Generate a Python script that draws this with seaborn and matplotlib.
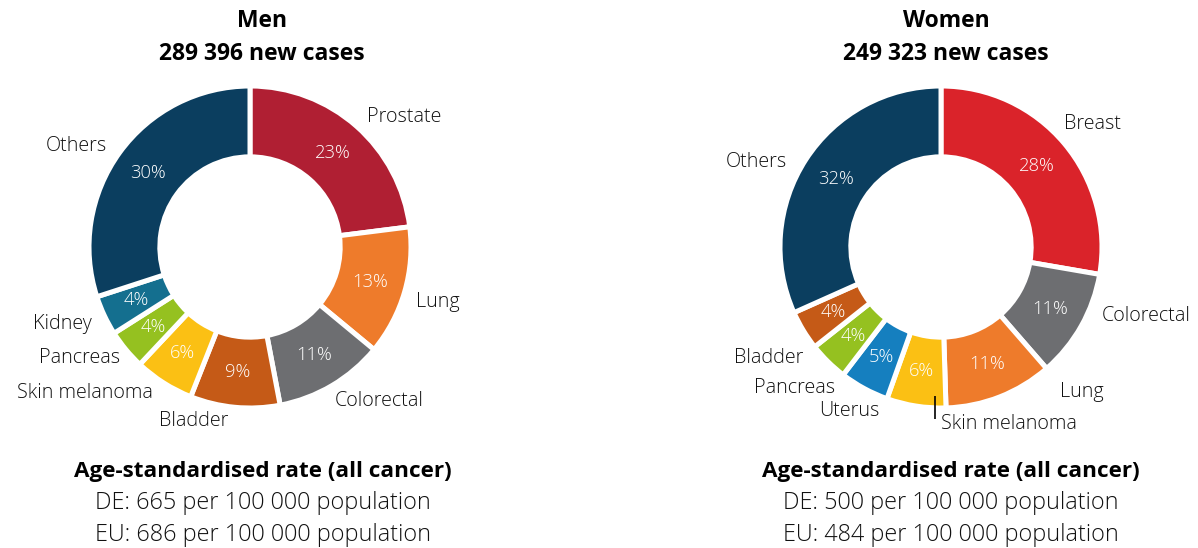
import numpy as np
import matplotlib
matplotlib.use("Agg")
import matplotlib.pyplot as plt
import seaborn as sns

# ---------------- data ----------------
men_labels = ["Prostate", "Lung", "Colorectal", "Bladder", "Skin melanoma",
              "Pancreas", "Kidney", "Others"]
men_values = [23, 13, 11, 9, 6, 4, 4, 30]
men_colors = ["#B01F33", "#EE7B2B", "#6D6E71", "#C55A17", "#FBC014",
              "#95C120", "#146F8F", "#0B3E5F"]

women_labels = ["Breast", "Colorectal", "Lung", "Skin melanoma", "Uterus",
                "Pancreas", "Bladder", "Others"]
women_values = [28, 11, 11, 6, 5, 4, 4, 32]
women_colors = ["#DA232A", "#6D6E71", "#EE7B2B", "#FBC014", "#157FBF",
                "#95C120", "#C55A17", "#0B3E5F"]

men_title = ["Men", "289 396 new cases"]
women_title = ["Women", "249 323 new cases"]
men_rates = ["DE: 665 per 100 000 population", "EU: 686 per 100 000 population"]
women_rates = ["DE: 500 per 100 000 population", "EU: 484 per 100 000 population"]
rate_header = "Age-standardised rate (all cancer)"

# ---------------- layout (label anchor positions, in radius units) ----------------
men_label_pos = {
    "Prostate": (0.727, 0.807, "left"),
    "Lung": (1.03, -0.342, "left"),
    "Colorectal": (0.528, -0.957, "left"),
    "Bladder": (-0.565, -1.08, "left"),
    "Skin melanoma": (-0.602, -0.907, "right"),
    "Pancreas": (-0.807, -0.689, "right"),
    "Kidney": (-0.981, -0.478, "right"),
    "Others": (-0.888, 0.627, "right"),
}
women_label_pos = {
    "Breast": (0.764, 0.764, "left"),
    "Colorectal": (1.0, -0.429, "left"),
    "Lung": (0.739, -0.90, "left"),
    "Skin melanoma": (0.0, -1.099, "left"),
    "Uterus": (-0.379, -1.019, "right"),
    "Pancreas": (-0.658, -0.876, "right"),
    "Bladder": (-0.857, -0.689, "right"),
    "Others": (-0.957, 0.528, "right"),
}

sns.set_theme(style="white")
plt.rcParams["font.family"] = ["Open Sans", "DejaVu Sans"]

W, H = 1198, 548
fig = plt.figure(figsize=(W / 100, H / 100), dpi=100)
fig.patch.set_facecolor("white")

R_PX = 161.0
TXT = "#111111"


def donut(cx, cy, labels, values, colors, label_pos, title, rates, title_cx, rate_cx,
          leader=None):
    half = 1.55  # axes half-extent in radius units
    size = 2 * half * R_PX
    ax = fig.add_axes([(cx - size / 2) / W, 1 - (cy + size / 2) / H, size / W, size / H])
    wedges, _ = ax.pie(values, colors=colors, startangle=90, counterclock=False,
                       radius=1.0,
                       wedgeprops=dict(width=0.44, edgecolor="white", linewidth=3.6))
    ax.set_xlim(-half, half)
    ax.set_ylim(-half, half)
    ax.set_aspect("equal")
    ax.axis("off")
    for w, lab in zip(wedges, labels):
        mid = np.deg2rad((w.theta1 + w.theta2) / 2)
        r = 0.78
        pct = values[labels.index(lab)]
        ax.text(r * np.cos(mid), r * np.sin(mid), f"{pct}%", color="white",
                ha="center", va="center", fontsize=13.2, fontweight="light")
        x, y, ha = label_pos[lab]
        ax.text(x, y, lab, ha=ha, va="center", fontsize=14.2, color=TXT,
                fontweight="light")
        if leader == lab:
            lx = x - 0.04
            ax.plot([lx, lx], [-0.925, -1.07], color="black", lw=1.2,
                    solid_capstyle="butt")
    # titles
    fig.text(title_cx / W, 1 - 21 / H, title[0], ha="center", va="center",
             fontsize=16.5, fontweight="bold", color="black")
    fig.text(title_cx / W, 1 - 54 / H, title[1], ha="center", va="center",
             fontsize=16.5, fontweight="bold", color="black")
    fig.text(rate_cx / W, 1 - 471 / H, rate_header, ha="center", va="center",
             fontsize=16.2, fontweight="bold", color="black")
    fig.text(rate_cx / W, 1 - 503 / H, rates[0], ha="center", va="center",
             fontsize=16.8, color=TXT, fontweight="light")
    fig.text(rate_cx / W, 1 - 535 / H, rates[1], ha="center", va="center",
             fontsize=16.8, color=TXT, fontweight="light")


donut(250, 247, men_labels, men_values, men_colors, men_label_pos, men_title,
      men_rates, 262, 263)
donut(941, 247, women_labels, women_values, women_colors, women_label_pos,
      women_title, women_rates, 946, 951, leader="Skin melanoma")

fig.savefig("out.png", dpi=100, facecolor="white")
